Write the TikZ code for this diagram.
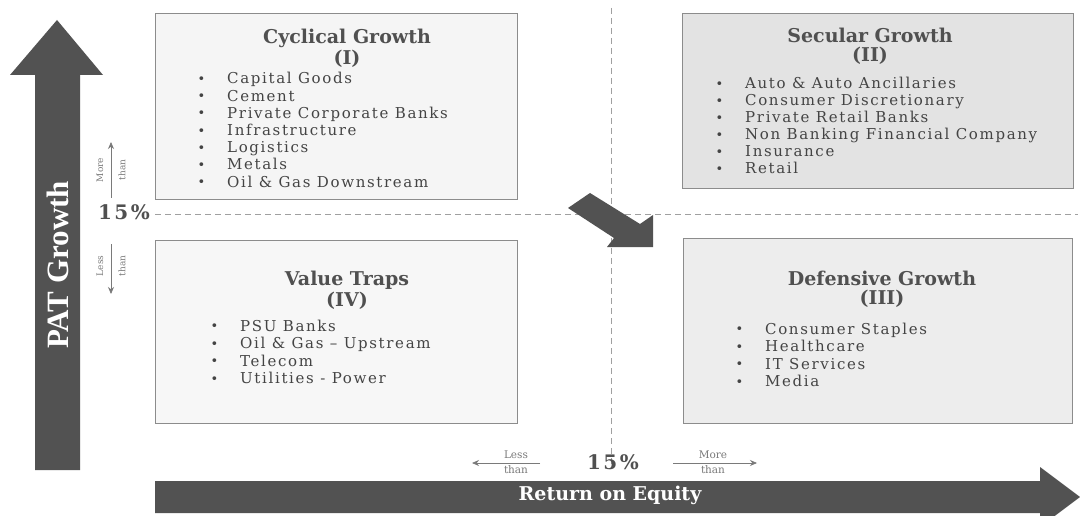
\documentclass[tikz,border=0pt]{standalone}
\usepackage{fontspec}
\setmainfont{DejaVu Serif}
\newfontfamily\patfont{Liberation Serif}
\newfontfamily\itemfont[LetterSpace=11]{DejaVu Serif}
\newfontfamily\pctfont[LetterSpace=12]{DejaVu Serif}
\usetikzlibrary{arrows.meta}
\definecolor{arrowgray}{HTML}{525252}
\definecolor{boxedge}{HTML}{8C8C8C}
\definecolor{boxA}{HTML}{F5F5F5}
\definecolor{boxB}{HTML}{E3E3E3}
\definecolor{boxC}{HTML}{EDEDED}
\definecolor{boxD}{HTML}{F7F7F7}
\definecolor{titlegray}{HTML}{505050}
\definecolor{itemgray}{HTML}{444444}
\definecolor{smallgray}{HTML}{7A7A7A}
\definecolor{lineGray}{HTML}{A0A0A0}
\newcommand{\bl}[1]{\makebox[0pt][r]{\raisebox{0.5pt}{\fontsize{13}{13}\selectfont\textbullet}\hspace{22pt}}#1}
\tikzset{
  quadbox/.style={draw=boxedge, line width=1.1pt, inner sep=0pt, anchor=north west},
  qtitle/.style={font=\fontsize{19}{21}\selectfont\bfseries, text=titlegray, inner sep=0pt},
  qitem/.style={font=\itemfont\fontsize{15}{17}\selectfont, text=itemgray, inner sep=0pt, anchor=base west},
  pct/.style={font=\pctfont\fontsize{20}{22}\selectfont\bfseries, text=titlegray, inner sep=0pt},
  tiny/.style={font=\fontsize{9}{10}\selectfont, text=smallgray, inner sep=0pt},
  small/.style={font=\fontsize{10.5}{11}\selectfont, text=smallgray, inner sep=0pt},
  guide/.style={draw=lineGray, line width=1pt, dash pattern=on 6pt off 4pt},
  thin arrow/.style={draw=smallgray, line width=0.8pt, -{Stealth[length=7pt,width=6pt]}}
}
\begin{document}
\begin{tikzpicture}[x=1pt,y=-1pt]
\useasboundingbox (0,0) rectangle (1080,516);
\fill[white] (0,0) rectangle (1080,516);

% guide lines
\coordinate (hl) at (155,215);
\coordinate (hr) at (1078,215);
\coordinate (vt) at (611,8);
\coordinate (vb) at (611,468);
\draw[guide] (hl) -- (hr);
\draw[guide] (vt) -- (vb);

% quadrant boxes
\node[quadbox, fill=boxA, minimum width=362pt, minimum height=186pt] (q1) at (155,13) {};
\node[quadbox, fill=boxB, minimum width=391pt, minimum height=175pt] (q2) at (682,13) {};
\node[quadbox, fill=boxD, minimum width=362pt, minimum height=183pt] (q4) at (155,240) {};
\node[quadbox, fill=boxC, minimum width=389pt, minimum height=185pt] (q3) at (683,238) {};

% big vertical arrow
\fill[arrowgray] (35,470) -- (35,75) -- (10,75) -- (57,20) -- (103,75) -- (80,75) -- (80,470) -- cycle;
\node[rotate=90, font=\patfont\bfseries\fontsize{31}{33}\selectfont, text=white, inner sep=0pt] (pat) at (58,265) {PAT Growth};

% big horizontal arrow
\fill[arrowgray] (155,481) -- (1040,481) -- (1040,467) -- (1080,497) -- (1040,527) -- (1040,513) -- (155,513) -- cycle;
\node[font=\fontsize{19}{21}\selectfont\bfseries, text=white, inner sep=0pt] (roe) at (610,495) {Return on Equity};

% diagonal arrow
\fill[arrowgray] (590,193) -- (640,224) -- (653,215) -- (653,247) -- (607,247) -- (614,238) -- (568,208) -- cycle;

% left threshold labels
\node[pct] (p1) at (124,212) {15\%};
\node[tiny, rotate=90] (lm1) at (100,170) {More};
\node[tiny, rotate=90] (lm2) at (122,170) {than};
\coordinate (lma) at (111,198);
\coordinate (lmb) at (111,142);
\draw[thin arrow] (lma) -- (lmb);
\node[tiny, rotate=90] (ll1) at (100,266) {Less};
\node[tiny, rotate=90] (ll2) at (122,266) {than};
\coordinate (lla) at (111,244);
\coordinate (llb) at (111,294);
\draw[thin arrow] (lla) -- (llb);

% bottom threshold labels
\node[pct] (p2) at (613,462) {15\%};
\node[small] (bl1) at (516,455) {Less};
\node[small] (bl2) at (516,470) {than};
\coordinate (bla) at (540,463);
\coordinate (blb) at (472,463);
\draw[thin arrow] (bla) -- (blb);
\node[small] (bm1) at (713,455) {More};
\node[small] (bm2) at (713,470) {than};
\coordinate (bma) at (673,463);
\coordinate (bmb) at (757,463);
\draw[thin arrow] (bma) -- (bmb);

% quadrant I
\node[qtitle] (t1) at (347,38) {Cyclical Growth};
\node[qtitle] (n1) at (347,59) {(I)};
\foreach \t [count=\i from 0] in {Capital Goods, Cement, Private Corporate Banks, Infrastructure, Logistics, Metals, Oil \& Gas Downstream}
  \node[qitem] (ci\i) at (227,{84+17.2*\i}) {\bl{\t}};

% quadrant II
\node[qtitle] (t2) at (870,35) {Secular Growth};
\node[qtitle] (n2) at (870,56) {(II)};
\foreach \t [count=\i from 0] in {Auto \& Auto Ancillaries, Consumer Discretionary, Private Retail Banks, Non Banking Financial Company, Insurance, Retail}
  \node[qitem] (cii\i) at (745,{89+17*\i}) {\bl{\t}};

% quadrant IV
\node[qtitle] (t4) at (347,280) {Value Traps};
\node[qtitle] (n4) at (347,301) {(IV)};
\foreach \t [count=\i from 0] in {PSU Banks, Oil \& Gas – Upstream, Telecom, Utilities - Power}
  \node[qitem] (civ\i) at (240,{331+17.6*\i}) {\bl{\t}};

% quadrant III
\node[qtitle] (t3) at (882,278) {Defensive Growth};
\node[qtitle] (n3) at (882,299) {(III)};
\foreach \t [count=\i from 0] in {Consumer Staples, Healthcare, IT Services, Media}
  \node[qitem] (ciii\i) at (765,{334+17.6*\i}) {\bl{\t}};
\end{tikzpicture}
\end{document}
